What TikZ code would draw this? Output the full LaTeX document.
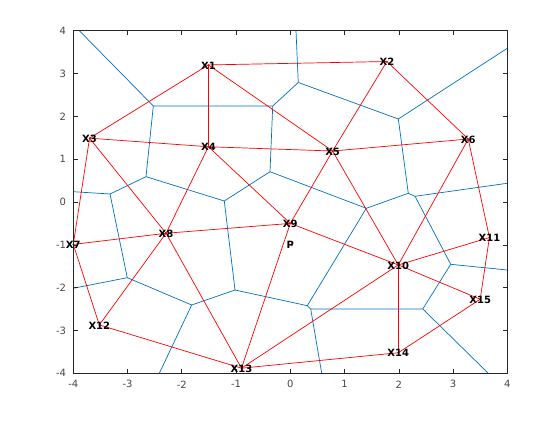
\documentclass[tikz,border=0pt]{standalone}
\usepackage{fontspec}
\setmainfont{DejaVu Sans}
\definecolor{vblue}{rgb}{0,0.447,0.741}
\definecolor{axgray}{rgb}{0.15,0.15,0.15}
\begin{document}
\begin{tikzpicture}[x=54.25pt,y=42.83pt,
  vor/.style={draw=vblue,line width=0.7pt},
  tri/.style={draw=red,line width=0.7pt},
  sitelab/.style={font=\bfseries\fontsize{10}{10}\selectfont,text=black,inner sep=0pt,anchor=center},
  ticklab/.style={font=\fontsize{10}{10}\selectfont,text=axgray!85,inner sep=0pt},
  tickmark/.style={draw=axgray,line width=0.6pt}]
\useasboundingbox[fill=white] (-5.351,-5.090) rectangle (4.971,4.716);
% sites
\coordinate (p1) at (-1.51,3.20);
\coordinate (p2) at (1.78,3.28);
\coordinate (p3) at (-3.70,1.49);
\coordinate (p4) at (-1.51,1.29);
\coordinate (p5) at (0.78,1.19);
\coordinate (p6) at (3.28,1.47);
\coordinate (p7) at (-4.00,-0.99);
\coordinate (p8) at (-2.29,-0.73);
\coordinate (p9) at (0.00,-0.50);
\coordinate (p10) at (1.99,-1.47);
\coordinate (p11) at (3.67,-0.83);
\coordinate (p12) at (-3.52,-2.87);
\coordinate (p13) at (-0.90,-3.88);
\coordinate (p14) at (1.99,-3.52);
\coordinate (p15) at (3.50,-2.27);
\coordinate (pp) at (0.00,-1.00);
% voronoi vertices
\coordinate (vA) at (-2.525,2.241);
\coordinate (vB) at (-0.324,2.241);
\coordinate (vC) at (-2.660,0.591);
\coordinate (vD) at (-0.374,0.707);
\coordinate (vE) at (-3.323,0.187);
\coordinate (vF) at (-1.217,0.023);
\coordinate (vG) at (0.147,2.790);
\coordinate (vH) at (1.991,1.938);
\coordinate (vI) at (2.175,0.203);
\coordinate (vJ) at (2.299,0.133);
\coordinate (vK) at (1.401,-0.147);
\coordinate (vL) at (-3.005,-1.767);
\coordinate (vM) at (-1.818,-2.405);
\coordinate (vN) at (-1.019,-2.055);
\coordinate (vO) at (0.313,-2.421);
\coordinate (vQ) at (0.376,-2.498);
\coordinate (vR) at (2.957,-1.455);
\coordinate (vS) at (2.441,-2.498);
% boundary ends
\coordinate (bA) at (-3.889,4);
\coordinate (bG) at (0.105,4);
\coordinate (bH) at (4,3.589);
\coordinate (bJ) at (4,0.437);
\coordinate (bR) at (4,-1.588);
\coordinate (bS) at (3.65,-4);
\coordinate (bQ) at (0.579,-4);
\coordinate (bM) at (-2.415,-4);
\coordinate (bL) at (-4,-2.015);
\coordinate (bE) at (-4,0.240);
% voronoi edges
\draw[vor] (bA) -- (vA) -- (vB) -- (vG) -- (bG);
\draw[vor] (vG) -- (vH) -- (bH);
\draw[vor] (vH) -- (vI) -- (vJ) -- (bJ);
\draw[vor] (vJ) -- (vR) -- (bR);
\draw[vor] (vR) -- (vS) -- (bS);
\draw[vor] (vS) -- (vQ) -- (bQ);
\draw[vor] (vQ) -- (vO) -- (vK) -- (vI);
\draw[vor] (vK) -- (vD) -- (vB);
\draw[vor] (vD) -- (vF) -- (vC) -- (vA);
\draw[vor] (vC) -- (vE) -- (bE);
\draw[vor] (vE) -- (vL) -- (bL);
\draw[vor] (vL) -- (vM) -- (bM);
\draw[vor] (vM) -- (vN) -- (vF);
\draw[vor] (vN) -- (vO);
% site dots
\foreach \i in {1,...,15} \fill[vblue] (p\i) circle (1pt);
% triangulation
\draw[tri] (p1) -- (p2);
\draw[tri] (p1) -- (p3);
\draw[tri] (p1) -- (p4);
\draw[tri] (p1) -- (p5);
\draw[tri] (p2) -- (p5);
\draw[tri] (p2) -- (p6);
\draw[tri] (p3) -- (p4);
\draw[tri] (p3) -- (p7);
\draw[tri] (p3) -- (p8);
\draw[tri] (p4) -- (p5);
\draw[tri] (p4) -- (p8);
\draw[tri] (p4) -- (p9);
\draw[tri] (p5) -- (p6);
\draw[tri] (p5) -- (p9);
\draw[tri] (p5) -- (p10);
\draw[tri] (p6) -- (p10);
\draw[tri] (p6) -- (p11);
\draw[tri] (p8) -- (p9);
\draw[tri] (p9) -- (p13);
\draw[tri] (p9) -- (p10);
\draw[tri] (p7) -- (p8);
\draw[tri] (p7) -- (p12);
\draw[tri] (p8) -- (p12);
\draw[tri] (p8) -- (p13);
\draw[tri] (p12) -- (p13);
\draw[tri] (p13) -- (p10);
\draw[tri] (p13) -- (p14);
\draw[tri] (p10) -- (p14);
\draw[tri] (p10) -- (p11);
\draw[tri] (p10) -- (p15);
\draw[tri] (p14) -- (p15);
\draw[tri] (p11) -- (p15);
\fill[red] (pp) ++(1.5pt,-0.5pt) circle (1pt);
% axes box and ticks
\draw[draw=axgray,line width=0.6pt] (-4,-4) rectangle (4,4);
\foreach \t in {-4,...,4} {
  \draw[tickmark] (\t,-4) -- ++(0,4.3pt);
  \draw[tickmark] (\t,4) -- ++(0,-4.3pt);
  \draw[tickmark] (-4,\t) -- ++(4.3pt,0);
  \draw[tickmark] (4,\t) -- ++(-4.3pt,0);
  \node[ticklab,anchor=center,yshift=-11pt] (xl\t) at (\t,-4) {\t};
  \node[ticklab,anchor=east,xshift=-7pt] (yl\t) at (-4,\t) {\t};
}
% labels
\foreach \i in {1,...,15} \node[sitelab,yshift=-0.5pt] (l\i) at (p\i) {X\i};
\node[sitelab,yshift=-0.5pt] (lp) at (pp) {P};
\end{tikzpicture}
\end{document}
